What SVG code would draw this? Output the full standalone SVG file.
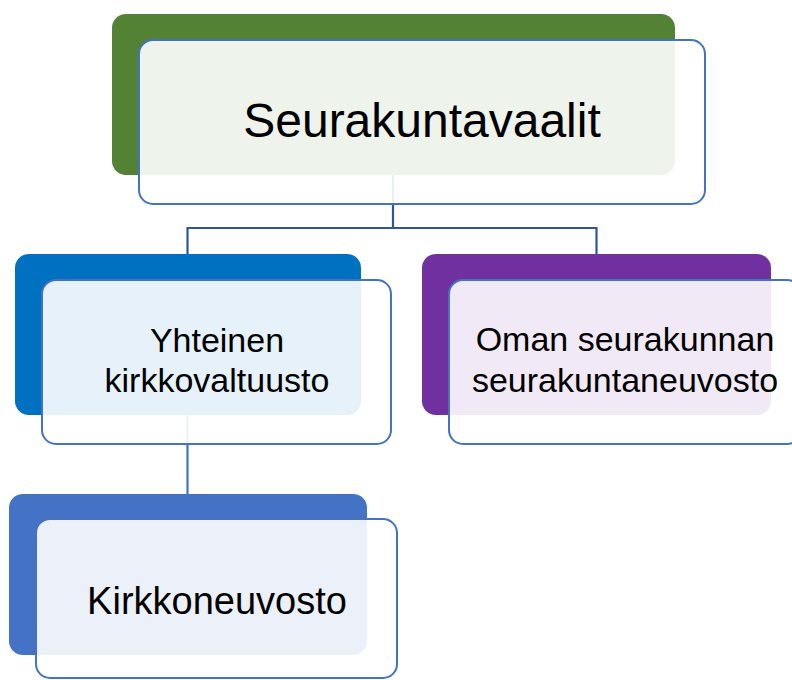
<svg xmlns="http://www.w3.org/2000/svg" width="792" height="680" viewBox="0 0 792 680">
<style>
.back{stroke:none}
.front{fill:#ffffff;fill-opacity:0.9;stroke:#4472C4;stroke-width:2}
.conn{fill:none;stroke:#2F5597;stroke-width:2.2}
.conn2{fill:none;stroke:#4472C4;stroke-width:2.2}
text{font-family:"Liberation Sans",Arial,sans-serif;fill:#000;text-anchor:middle}
</style>
<rect width="792" height="680" fill="#ffffff"/>
<g id="backs">
<rect class="back" x="112" y="14" width="563" height="161" rx="14" fill="#548235"/>
<rect class="back" x="15" y="254" width="346" height="161" rx="14" fill="#0070C0"/>
<rect class="back" x="422" y="254" width="349" height="161" rx="14" fill="#7030A0"/>
<rect class="back" x="9" y="494" width="358" height="161" rx="14" fill="#4472C4"/>
</g>
<g id="connectors">
<path class="conn" d="M393,175 V228 M187.5,228 H596.5 M187.5,227 V254 M596.5,227 V254"/>
<path class="conn2" d="M187.5,415 V494"/>
</g>
<g id="node-seurakuntavaalit">
<rect class="front" x="139" y="40" width="566" height="164" rx="14"/>
<text x="422" y="137" font-size="48">Seurakuntavaalit</text>
</g>
<g id="node-yhteinen">
<rect class="front" x="42" y="280" width="349" height="164" rx="14"/>
<text x="217" y="352" font-size="34">Yhteinen</text>
<text x="217" y="392" font-size="34">kirkkovaltuusto</text>
</g>
<g id="node-oman">
<rect class="front" x="449" y="280" width="352" height="164" rx="14"/>
<text x="625" y="351" font-size="34">Oman seurakunnan</text>
<text x="625" y="392" font-size="34">seurakuntaneuvosto</text>
</g>
<g id="node-kirkkoneuvosto">
<rect class="front" x="36" y="519" width="361" height="159" rx="14"/>
<text x="217" y="614" font-size="38">Kirkkoneuvosto</text>
</g>
</svg>
